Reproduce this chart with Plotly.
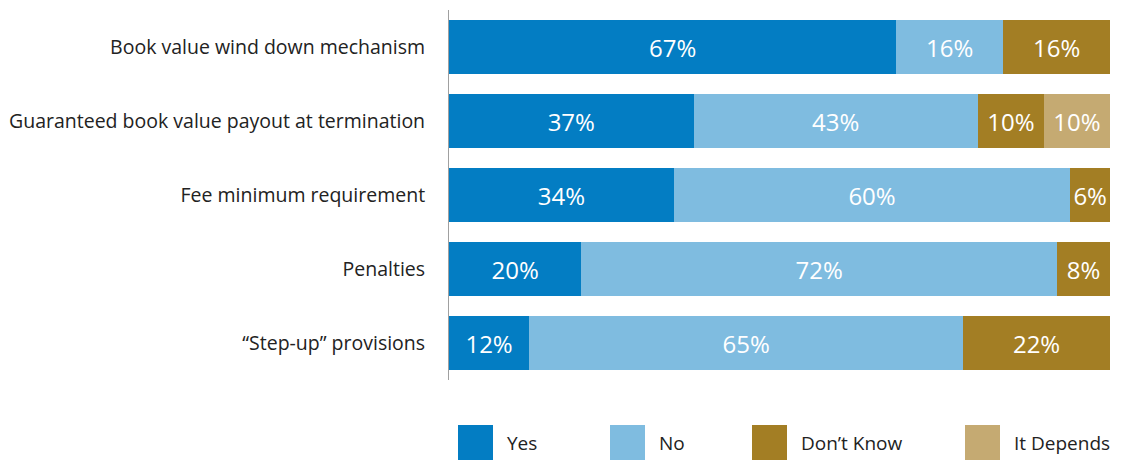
import plotly.graph_objects as go

# Survey items (top to bottom)
categories = [
    "Book value wind down mechanism",
    "Guaranteed book value payout at termination",
    "Fee minimum requirement",
    "Penalties",
    "\u201cStep-up\u201d provisions",
]

# Response shares, percent
yes = [67, 37, 34, 20, 12]
no = [16, 43, 60, 72, 65]
dont_know = [16, 10, 6, 8, 22]
it_depends = [None, 10, None, None, None]

series_names = ["Yes", "No", "Don\u2019t Know", "It Depends"]
series_values = [yes, no, dont_know, it_depends]
series_colors = ["#037dc3", "#7fbce0", "#a37e24", "#c5aa72"]

FONT = "Open Sans"

fig = go.Figure()
for name, vals, color in zip(series_names, series_values, series_colors):
    fig.add_trace(go.Bar(
        name=name,
        y=categories,
        x=vals,
        orientation="h",
        marker=dict(color=color, line=dict(width=0)),
        text=[f"{v}%" if v else None for v in vals],
        texttemplate="%{text}",
        textposition="inside",
        insidetextanchor="middle",
        textangle=0,
        textfont=dict(family=FONT, size=24, color="white"),
        hoverinfo="skip",
        showlegend=False,
    ))

# Legend drawn as colored swatches with labels beneath the plot
W, H = 1125, 460
L, R, T, B = 449, 15, 10, 80
PW, PH = W - L - R, H - T - B
legend_x = [458, 610, 752, 965]  # swatch left edges, px
SW = 35


def px_x(x):
    return (x - L) / PW


def px_y(y):
    return (H - B - y) / PH


for name, color, lx in zip(series_names, series_colors, legend_x):
    fig.add_shape(
        type="rect", xref="paper", yref="paper",
        x0=px_x(lx), x1=px_x(lx + SW),
        y0=px_y(460), y1=px_y(425),
        fillcolor=color, line=dict(width=0), layer="above",
    )
    fig.add_annotation(
        xref="paper", yref="paper",
        x=px_x(lx + SW + 12), y=px_y(443),
        text=name, showarrow=False, xanchor="left", yanchor="middle",
        font=dict(family=FONT, size=19, color="#222222"),
    )

fig.update_layout(
    width=W, height=H,
    margin=dict(l=L, r=R, t=T, b=B),
    barmode="stack",
    barnorm="percent",
    bargap=0.27,
    paper_bgcolor="white",
    plot_bgcolor="white",
    font=dict(family=FONT, size=19.5, color="#222222"),
    xaxis=dict(range=[0, 100], visible=False, fixedrange=True),
    yaxis=dict(
        autorange="reversed",
        showgrid=False, zeroline=False,
        showline=True, linecolor="#a0a0a0", linewidth=1,
        ticks="", ticklabelstandoff=19,
        tickfont=dict(family=FONT, size=19.5, color="#222222"),
    ),
)

fig.write_html("out.html")
